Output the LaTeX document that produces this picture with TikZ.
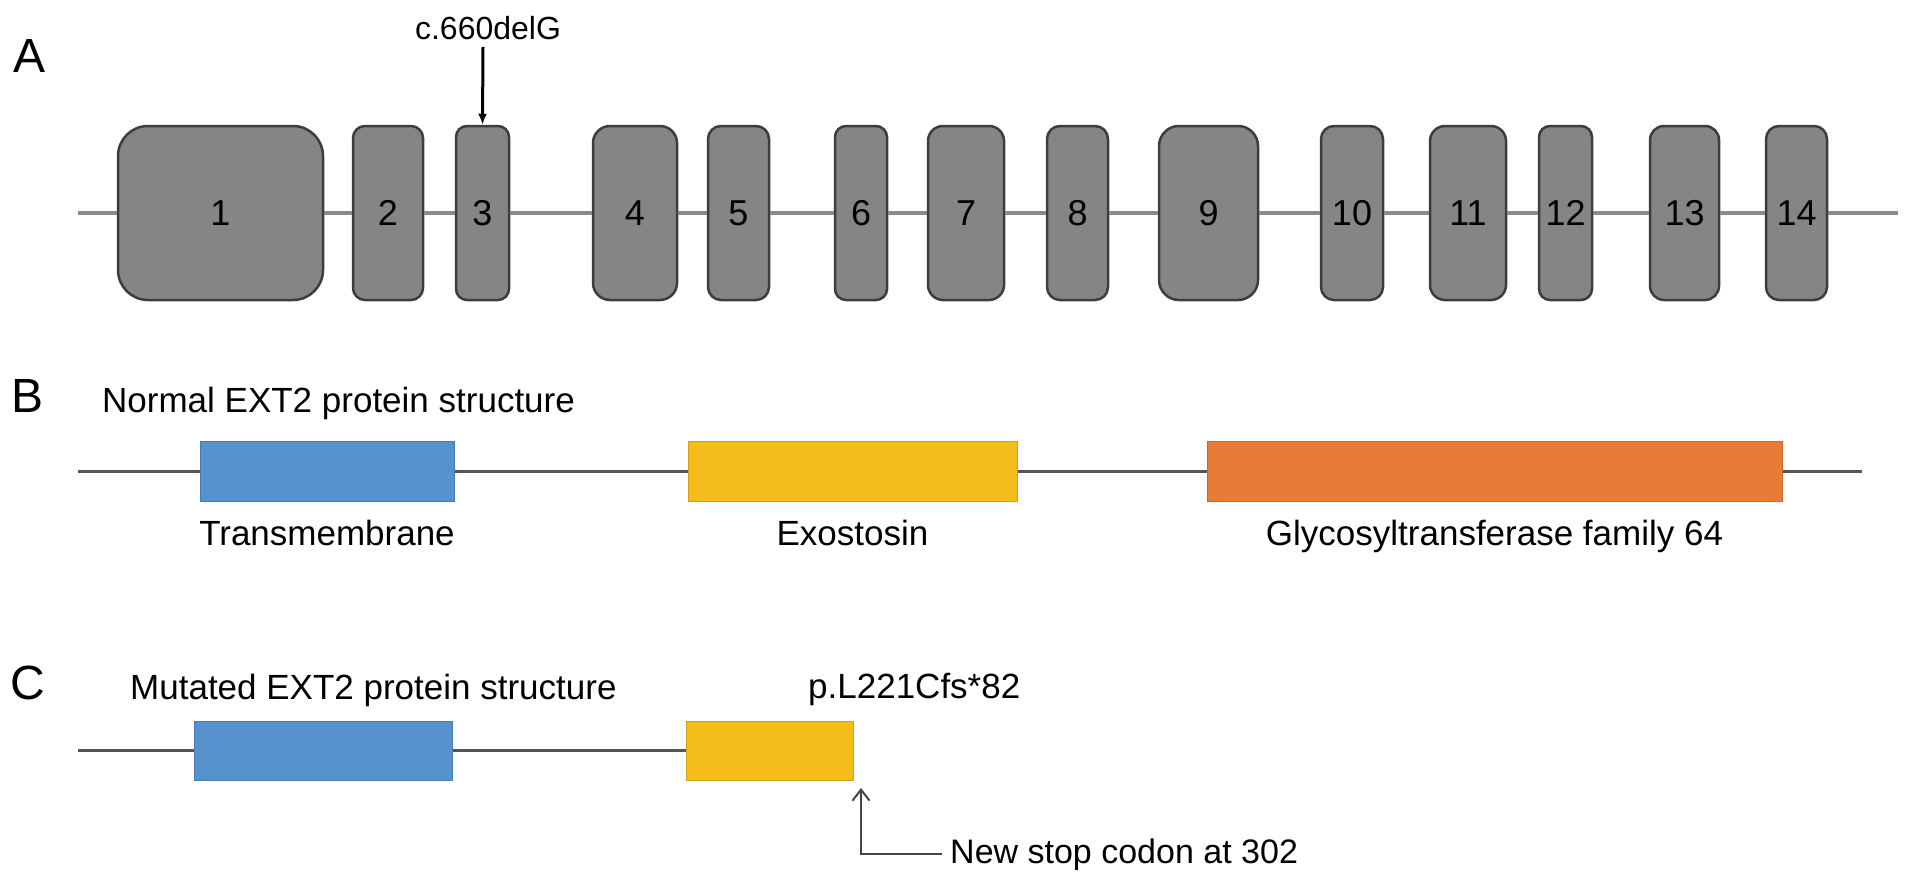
\documentclass[tikz,border=0pt]{standalone}
\usepackage{fontspec}
\setmainfont{Liberation Sans}
\usetikzlibrary{arrows.meta}
\definecolor{exonfill}{HTML}{858585}
\definecolor{exonline}{HTML}{3D3D3D}
\definecolor{introncol}{HTML}{8A8A8A}
\definecolor{ptcol}{HTML}{555555}
\definecolor{tmblue}{HTML}{5592CE}
\definecolor{exoyellow}{HTML}{F5BD1C}
\definecolor{glyorange}{HTML}{E87B36}
\definecolor{stopcol}{HTML}{444444}
\begin{document}
\begin{tikzpicture}[x=1pt,y=-1pt,
  exon/.style={draw=exonline, fill=exonfill, line width=2.5pt, minimum height=174, inner sep=0pt, font=\fontsize{36}{40}\selectfont},
  intron/.style={draw=introncol, line width=3.5pt},
  ptline/.style={draw=ptcol, line width=3pt},
  domain/.style={minimum height=60, inner sep=0pt, draw=#1!85!black, fill=#1, line width=1pt},
  txt/.style={inner sep=0pt, font=\fontsize{35}{40}\selectfont},
  panel/.style={inner sep=0pt, font=\fontsize{48}{52}\selectfont},
  mutarrow/.style={-{Latex[length=11,width=9]}, line width=3pt, draw=black},
  stoparrow/.style={-{Straight Barb[length=11,width=17]}, line width=2pt, draw=stopcol}
]
\useasboundingbox[fill=white] (0,0) rectangle (1913,883);

% ---------- Panel A ----------
\node[panel, anchor=base west] (lA) at (13,73) {A};
\foreach \n/\cx/\w/\r in {1/220.5/205/30, 2/388/70/12, 3/482.5/53/11, 4/635/84/17,
  5/738.5/61/13, 6/861/52/11, 7/966/76/15, 8/1077.5/61/13, 9/1208.5/99/20,
  10/1352/62/13, 11/1468/76/15, 12/1565.5/53/11, 13/1684.5/69/14, 14/1796.5/61/13}
  {\node[exon, minimum width=\w, rounded corners=\r] (e\n) at (\cx,213) {\n};}
\coordinate (As) at (78,213);
\coordinate (Ae) at (1898,213);
\draw[intron] (As) -- (e1.west);
\foreach \a/\b in {1/2,2/3,3/4,4/5,5/6,6/7,7/8,8/9,9/10,10/11,11/12,12/13,13/14}
  {\draw[intron] (e\a.east) -- (e\b.west);}
\draw[intron] (e14.east) -- (Ae);
\node[txt, font=\fontsize{32}{36}\selectfont, anchor=base] (mut) at (488,40) {c.660delG};
\coordinate (mutstart) at (483,47);
\draw[mutarrow] (mutstart) -- (e3.north);

% ---------- Panel B ----------
\node[panel, anchor=base west] (lB) at (11,412) {B};
\node[txt, anchor=base west] (tB) at (102,412) {Normal EXT2 protein structure};
\node[domain=tmblue, minimum width=254] (tmB) at (327,471) {};
\node[domain=exoyellow, minimum width=329] (exoB) at (852.5,471) {};
\node[domain=glyorange, minimum width=575] (glyB) at (1494.5,471) {};
\coordinate (Bs) at (78,471);
\coordinate (Be) at (1862,471);
\draw[ptline] (Bs) -- (tmB.west);
\draw[ptline] (tmB.east) -- (exoB.west);
\draw[ptline] (exoB.east) -- (glyB.west);
\draw[ptline] (glyB.east) -- (Be);
\node[txt, anchor=base] (ltm) at (tmB.center |- 0,545) {Transmembrane};
\node[txt, anchor=base] (lexo) at (exoB.center |- 0,545) {Exostosin};
\node[txt, anchor=base] (lgly) at (glyB.center |- 0,545) {Glycosyltransferase family 64};

% ---------- Panel C ----------
\node[panel, anchor=base west] (lC) at (10,699) {C};
\node[txt, anchor=base west] (tC) at (130,699) {Mutated EXT2 protein structure};
\node[domain=tmblue, minimum width=258, minimum height=59] (tmC) at (323,750.5) {};
\node[domain=exoyellow, minimum width=167, minimum height=59] (exoC) at (769.5,750.5) {};
\coordinate (Cs) at (78,750.5);
\draw[ptline] (Cs) -- (tmC.west);
\draw[ptline] (tmC.east) -- (exoC.west);
\node[txt, anchor=base west] (pmut) at (808,698) {p.L221Cfs*82};
\node[txt, font=\fontsize{34}{38}\selectfont, anchor=base west] (ns) at (950,863) {New stop codon at 302};
\coordinate (tip) at (861,788);
\draw[stoparrow] ([xshift=-8pt]ns.west) -| (tip);
\end{tikzpicture}
\end{document}
